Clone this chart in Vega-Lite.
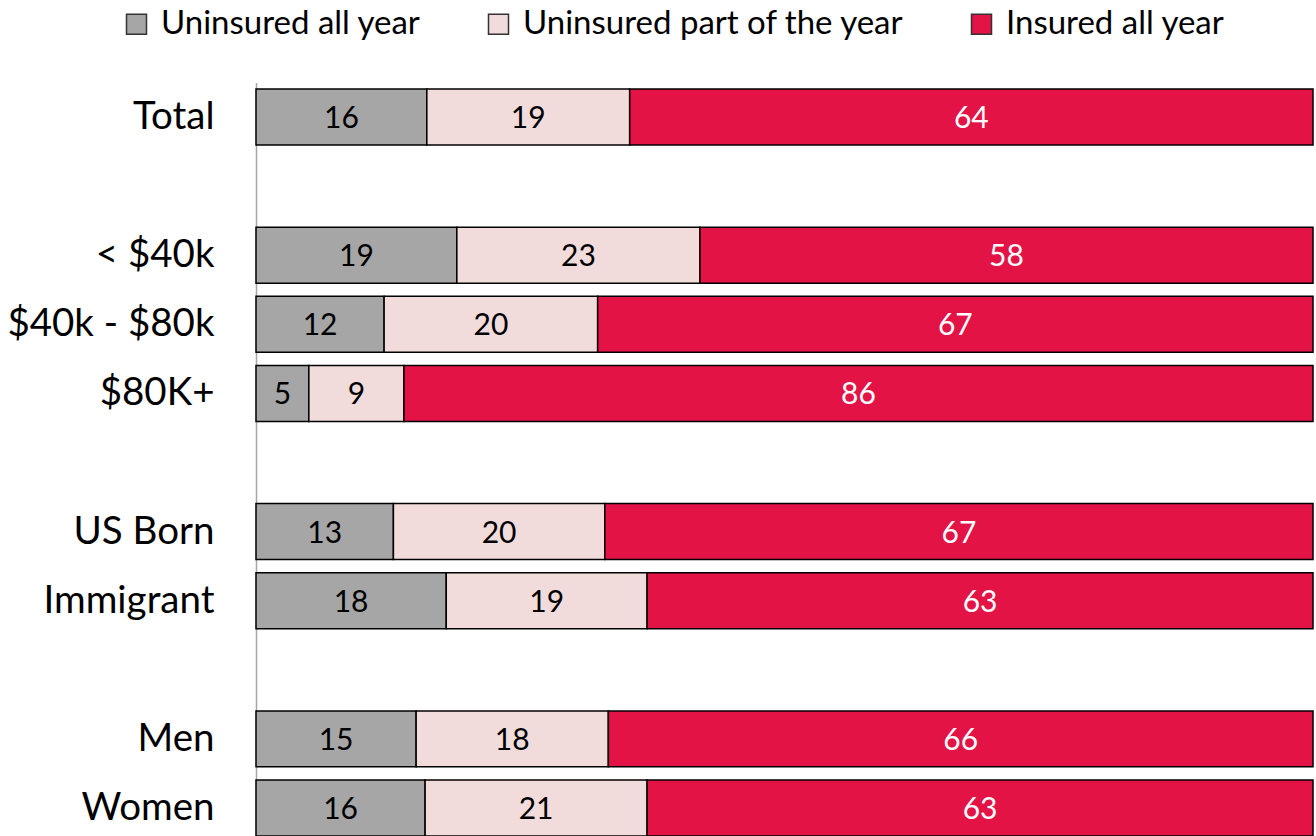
{
  "$schema": "https://vega.github.io/schema/vega-lite/v6.json",
  "autosize": "none",
  "width": 1057,
  "height": 760,
  "padding": {"left": 256, "top": 82.5, "right": 3, "bottom": 0},
  "background": "white",
  "config": {
    "font": "Lato",
    "view": {"stroke": null}
  },
  "data": {
    "values": [
      {"group": "Total", "type": "Uninsured all year", "k": 1, "v": 16},
      {"group": "Total", "type": "Uninsured part of the year", "k": 2, "v": 19},
      {"group": "Total", "type": "Insured all year", "k": 3, "v": 64},
      {"group": "< $40k", "type": "Uninsured all year", "k": 1, "v": 19},
      {"group": "< $40k", "type": "Uninsured part of the year", "k": 2, "v": 23},
      {"group": "< $40k", "type": "Insured all year", "k": 3, "v": 58},
      {"group": "$40k - $80k", "type": "Uninsured all year", "k": 1, "v": 12},
      {"group": "$40k - $80k", "type": "Uninsured part of the year", "k": 2, "v": 20},
      {"group": "$40k - $80k", "type": "Insured all year", "k": 3, "v": 67},
      {"group": "$80K+", "type": "Uninsured all year", "k": 1, "v": 5},
      {"group": "$80K+", "type": "Uninsured part of the year", "k": 2, "v": 9},
      {"group": "$80K+", "type": "Insured all year", "k": 3, "v": 86},
      {"group": "US Born", "type": "Uninsured all year", "k": 1, "v": 13},
      {"group": "US Born", "type": "Uninsured part of the year", "k": 2, "v": 20},
      {"group": "US Born", "type": "Insured all year", "k": 3, "v": 67},
      {"group": "Immigrant", "type": "Uninsured all year", "k": 1, "v": 18},
      {"group": "Immigrant", "type": "Uninsured part of the year", "k": 2, "v": 19},
      {"group": "Immigrant", "type": "Insured all year", "k": 3, "v": 63},
      {"group": "Men", "type": "Uninsured all year", "k": 1, "v": 15},
      {"group": "Men", "type": "Uninsured part of the year", "k": 2, "v": 18},
      {"group": "Men", "type": "Insured all year", "k": 3, "v": 66},
      {"group": "Women", "type": "Uninsured all year", "k": 1, "v": 16},
      {"group": "Women", "type": "Uninsured part of the year", "k": 2, "v": 21},
      {"group": "Women", "type": "Insured all year", "k": 3, "v": 63}
    ]
  },
  "encoding": {
    "y": {
      "field": "group",
      "type": "nominal",
      "title": null,
      "scale": {
        "domain": ["Total", " ", "< $40k", "$40k - $80k", "$80K+", "  ", "US Born", "Immigrant", "   ", "Men", "Women"],
        "paddingInner": 0.19,
        "paddingOuter": 0.095
      },
      "axis": {
        "ticks": false,
        "domain": true,
        "domainColor": "#a6a6a6",
        "domainWidth": 1.5,
        "labelFontSize": 38.5,
        "labelColor": "black",
        "labelPadding": 42,
        "labelLimit": 400,
        "grid": false
      }
    },
    "x": {
      "field": "v",
      "type": "quantitative",
      "stack": "normalize",
      "axis": null,
      "scale": {"domain": [0, 1], "nice": false, "zero": true}
    },
    "order": {"field": "k", "type": "quantitative"}
  },
  "layer": [
    {
      "mark": {"type": "bar", "stroke": "black", "strokeWidth": 1.5},
      "encoding": {
        "color": {
          "field": "type",
          "type": "nominal",
          "title": null,
          "scale": {
            "domain": ["Uninsured all year", "Uninsured part of the year", "Insured all year"],
            "range": ["#a6a6a6", "#f2dcdb", "#e31346"]
          },
          "legend": {
            "orient": "none",
            "direction": "horizontal",
            "legendX": -136,
            "legendY": -75,
            "symbolType": "square",
            "symbolSize": 400,
            "symbolStrokeColor": "#333333",
            "symbolStrokeWidth": 1.5,
            "labelFontSize": 33,
            "labelColor": "black",
            "labelOffset": 8,
            "columnPadding": 61,
            "labelLimit": 600
          }
        }
      }
    },
    {
      "mark": {"type": "text", "fontSize": 30, "baseline": "middle", "align": "center", "dy": 2},
      "encoding": {
        "x": {
          "field": "v",
          "type": "quantitative",
          "stack": "normalize",
          "bandPosition": 0.5
        },
        "text": {"field": "v", "type": "quantitative"},
        "color": {
          "condition": {"test": "datum.type == 'Insured all year'", "value": "white"},
          "value": "black"
        }
      }
    }
  ]
}
